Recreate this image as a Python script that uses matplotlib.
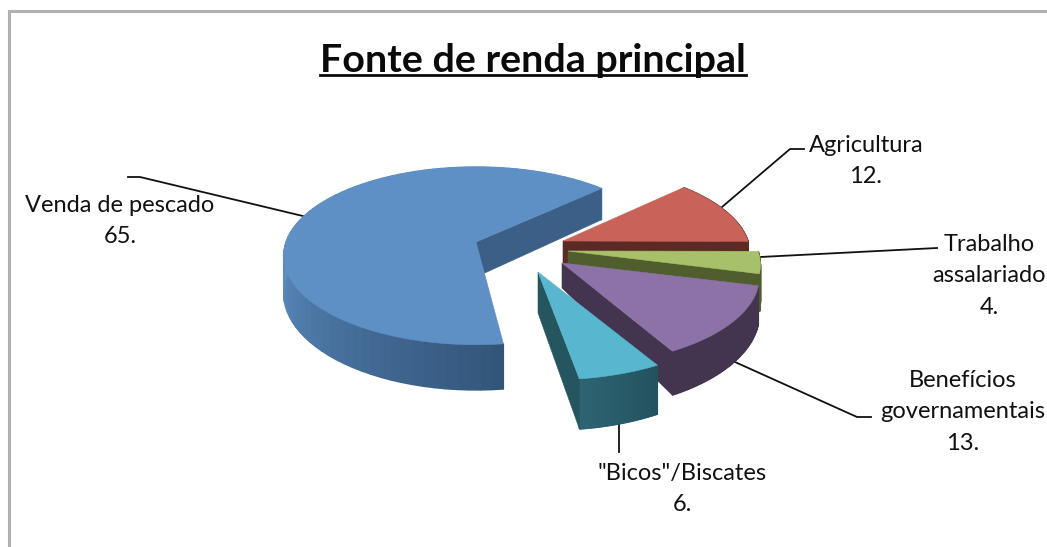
import numpy as np
import matplotlib
matplotlib.use("Agg")
import matplotlib.pyplot as plt
from matplotlib.colors import to_rgb

# Data
categories = ["Venda de pescado", "Agricultura", "Trabalho\nassalariado",
              "Benefícios\ngovernamentais", '"Bicos"/Biscates']
values = [65, 12, 4, 13, 6]

# Pixel-space look of the fake 3D pie (y grows downward)
_START = 173.0
_A, _B, _K = 190.0, 86.7, 0.156
_CENTER = [(476, 242), (558, 241), (568, 251), (567, 263), (552, 277)]
_TIP = [(476, 242), (563, 241), (568, 251), (562, 263), (538, 272)]
_TIP_DEPTH = [35, 35, 35, 25, 41]
_TOP = ["#5e90c6", "#c9635a", "#a7c16a", "#8d72a8", "#58b6cf"]
_WALL = ["#3b5f86", "#5c2a24", "#505d2c", "#43344f", "#25565f"]
_RIM_FROM = ["#5e8fc4", "#7a3a33", "#505d2c", "#43344f", "#23525f"]
_RIM_TO = ["#33557a", "#5c2a24", "#505d2c", "#43344f", "#2e6472"]
_LABEL_POS = [(120, 221), (866, 161), (989, 276), (963, 412), (682, 489)]
_LEADERS = [
    [(128, 177), (140, 177), (307, 217)],
    [(722, 207), (790, 149), (804, 149)],
    [(760, 257), (937, 248)],
    [(735, 362), (857, 417), (871, 417)],
    [(619, 418), (619, 452)],
]


def project(theta, center):
    t = np.radians(theta)
    x, y = np.sin(t), -np.cos(t)
    w = 1 / (1 - _K * y)
    return center[0] + _A * x * w, center[1] + _B * y * w


def draw_slice(ax, i, t0, t1):
    center, tip, depth = _CENTER[i], _TIP[i], _TIP_DEPTH[i]
    thetas = np.linspace(t0, t1, 80)
    xs, ys = project(thetas, center)
    ds = max(depth, 36) + 0.09 * (ys - center[1])

    # outer side, shaded; the big slice only gets light up to its far left
    c0, c1 = np.array(to_rgb(_RIM_FROM[i])), np.array(to_rgb(_RIM_TO[i]))
    n = len(thetas) - 1
    for j in range(n):
        f = j / n
        if i == 0:
            f = 1 - min(1.0, f * (t1 - t0) / 97)
        col = c0 * (1 - f) + c1 * f
        ax.fill([xs[j], xs[j + 1], xs[j + 1], xs[j]],
                [ys[j], ys[j + 1], ys[j + 1] + ds[j + 1], ys[j] + ds[j]],
                color=col, lw=1.0, zorder=3 + i)

    # cut face at the end angle
    ax.fill([tip[0], xs[-1], xs[-1], tip[0]],
            [tip[1], ys[-1], ys[-1] + ds[-1], tip[1] + depth],
            color=_WALL[i], lw=0.4, zorder=3 + i)

    ax.fill(np.r_[tip[0], xs], np.r_[tip[1], ys],
            color=_TOP[i], lw=0.4, zorder=3 + i)


plt.rcParams["font.family"] = ["Lato", "DejaVu Sans"]
fig = plt.figure(figsize=(10.47, 5.47), dpi=100)
ax = fig.add_axes([0, 0, 1, 1])
ax.set_xlim(0, 1047)
ax.set_ylim(547, 0)
ax.axis("off")

# chart frame, cropped on the right and bottom
ax.plot([8.5, 8.5, 1047], [547, 10.5, 10.5], color="#b0b0b0", lw=2.2,
        solid_joinstyle="miter")

ax.text(533, 60, "Fonte de renda principal", fontsize=28.4, fontweight="bold",
        ha="center", va="center", color="#0a0a0a")
ax.plot([320, 746], [75, 75], color="#0a0a0a", lw=2)

for pts in _LEADERS:
    ax.plot(*zip(*pts), color="#111111", lw=1.3, zorder=2)

edges = _START + np.r_[0, np.cumsum(values)] * 3.6
for i in range(len(values)):
    draw_slice(ax, i, edges[i], edges[i + 1])

for name, v, (x, y) in zip(categories, values, _LABEL_POS):
    ax.text(x, y, f"{name}\n{v}.", fontsize=17, ha="center", va="center",
            color="#111111", linespacing=1.62, zorder=10)

fig.savefig("out.png", dpi=100)
plt.close(fig)
